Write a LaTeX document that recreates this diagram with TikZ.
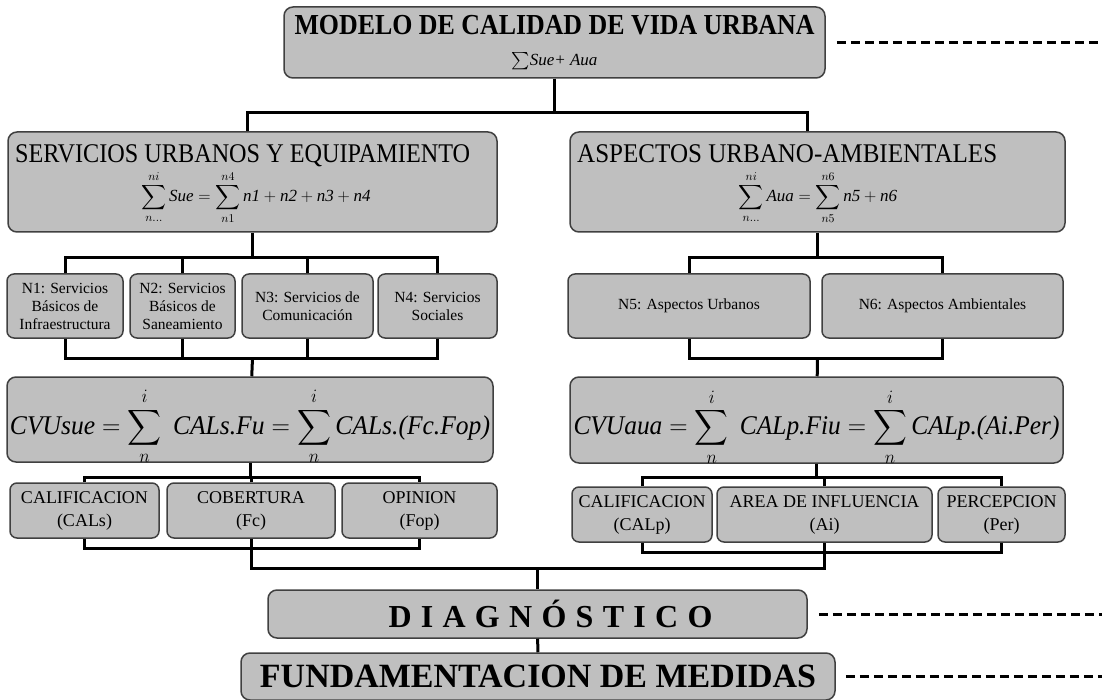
\RequirePackage{fix-cm}
\documentclass[tikz,border=0pt]{standalone}
\usepackage{amsmath}
\usepackage{graphicx}
\usepackage{fontspec}
\setmainfont{Liberation Serif}
\usepackage{tikz}
\tikzstyle{caja} = [draw=black!75, fill=black!25, line width=1.5pt, rounded corners=9pt, inner sep=1pt]
\tikzstyle{nivel} = [caja, minimum height=64, align=center, rounded corners=7pt, font=\fontsize{15.5}{18}\selectfont]
\tikzstyle{factor} = [caja, minimum height=55, align=center, rounded corners=7pt, font=\fontsize{18}{23}\selectfont]
\tikzstyle{linea} = [line width=3pt]
\tikzstyle{punteada} = [line width=3pt, dash pattern=on 9pt off 5pt]
\newcommand{\fitto}[2]{\resizebox{#1}{\height}{#2}}

\begin{document}
\begin{tikzpicture}[x=1pt, y=-1pt]
            \useasboundingbox (0,0) rectangle (1102,700);
            % 模型
            \node[caja, minimum width=541, minimum height=71, align=center, font=\fontsize{17}{31}\selectfont] (modelo) at (554.5,42.5)
                {\fitto{520pt}{\fontsize{29}{29}\selectfont\bfseries MODELO DE CALIDAD DE VIDA URBANA}\\
                 $\sum$\textit{Sue+ Aua}};
            
            % 第二层
            \node[caja, minimum width=489, minimum height=100] (servicios) at (252.5,182) {};
            \node[anchor=base west, inner sep=0] (servicios-tit) at (15,163)
                {\fitto{455pt}{\fontsize{27}{27}\selectfont SERVICIOS URBANOS Y EQUIPAMIENTO}};
            \node[anchor=base, inner sep=0] (servicios-for) at (256,202)
                {\fontsize{17}{17}\selectfont$\displaystyle\sum_{n\ldots}^{ni}\textit{Sue} = \sum_{n1}^{n4}\textit{n1} + \textit{n2} + \textit{n3} + \textit{n4}$};
            \node[caja, minimum width=495, minimum height=100] (aspectos) at (817.5,182) {};
            \node[anchor=base west, inner sep=0] (aspectos-tit) at (577,163)
                {\fitto{420pt}{\fontsize{27}{27}\selectfont ASPECTOS URBANO-AMBIENTALES}};
            \node[anchor=base, inner sep=0] (aspectos-for) at (818,202)
                {\fontsize{17}{17}\selectfont$\displaystyle\sum_{n\ldots}^{ni}\textit{Aua} = \sum_{n5}^{n6}\textit{n5} + \textit{n6}$};
            
            % 第三层
            \node[nivel, minimum width=116] (n1) at (65,306) {N1: Servicios\\Básicos de\\Infraestructura};
            \node[nivel, minimum width=105] (n2) at (182.5,306) {N2: Servicios\\Básicos de\\Saneamiento};
            \node[nivel, minimum width=131] (n3) at (307.5,306) {N3: Servicios de\\Comunicación};
            \node[nivel, minimum width=119] (n4) at (437.5,306) {N4: Servicios\\Sociales};
            \node[nivel, minimum width=242] (n5) at (689,306) {N5: Aspectos Urbanos};
            \node[nivel, minimum width=241] (n6) at (942.5,306) {N6: Aspectos Ambientales};
            
            % 公式
            \node[caja, minimum width=486, minimum height=85] (cvusue) at (250,419.5) {};
            \node[yshift=-7pt, inner sep=0] (cvusue-for) at (cvusue)
                {\fitto{480pt}{\fontsize{27}{27}\selectfont$\displaystyle\textit{CVUsue} = \sum_{n}^{i}\;\textit{CALs.Fu} = \sum_{n}^{i}\textit{CALs.(Fc.Fop)}$}};
            \node[caja, minimum width=493, minimum height=86] (cvuaua) at (816.5,420) {};
            \node[yshift=-7pt, inner sep=0] (cvuaua-for) at (cvuaua)
                {\fitto{486pt}{\fontsize{27}{27}\selectfont$\displaystyle\textit{CVUaua} = \sum_{n}^{i}\;\textit{CALp.Fiu} = \sum_{n}^{i}\textit{CALp.(Ai.Per)}$}};
            
            % 因子
            \node[factor, minimum width=149] (c1) at (84.5,510.5) {CALIFICACION\\(CALs)};
            \node[factor, minimum width=168] (c2) at (251,510.5) {COBERTURA\\(Fc)};
            \node[factor, minimum width=155] (c3) at (419.5,510.5) {OPINION\\(Fop)};
            \node[factor, minimum width=140] (r1) at (642,514.5) {CALIFICACION\\(CALp)};
            \node[factor, minimum width=215] (r2) at (824.5,514.5) {AREA DE INFLUENCIA\\(Ai)};
            \node[factor, minimum width=127] (r3) at (1001.5,514.5) {PERCEPCION\\(Per)};
            
            % 诊断
            \node[caja, minimum width=539, minimum height=48] (diag) at (537.5,614)
                {\hspace{26pt}\fontsize{32}{32}\selectfont\bfseries\addfontfeature{LetterSpace=29}DIAGNÓSTICO};
            \node[caja, minimum width=594, minimum height=47] (fund) at (538,676.5)
                {\fitto{556pt}{\fontsize{34}{34}\selectfont\bfseries FUNDAMENTACION DE MEDIDAS}};
            
            % 连线
            \coordinate (j0) at (554.5,113);
            \draw[linea] (modelo) -- (j0);
            \draw[linea] (j0) -| ([xshift=-5]servicios.north);
            \draw[linea] (j0) -| ([xshift=-10]aspectos.north);
            
            \coordinate (j1) at (252.5,258);
            \coordinate (j2) at (252.5,358);
            \draw[linea] (servicios) -- (j1);
            \draw[linea] (n1.north) |- (j1) -| (n4.north);
            \draw[linea] (n2) -- (n2 |- j1);
            \draw[linea] (n3) -- (n3 |- j1);
            \draw[linea] (n1.south) |- (j2) -| (n4.south);
            \draw[linea] (n2) -- (n2 |- j2);
            \draw[linea] (n3) -- (n3 |- j2);
            \draw[linea] (j2) -- (cvusue);
            
            \coordinate (k1) at (817.5,258);
            \coordinate (k2) at (817.5,358);
            \draw[linea] (aspectos) -- (k1);
            \draw[linea] (n5.north) |- (k1) -| (n6.north);
            \draw[linea] (n5.south) |- (k2) -| (n6.south);
            \draw[linea] (k2) -- (cvuaua);
            
            \coordinate (j3) at (250,477);
            \coordinate (j4) at (251,548);
            \draw[linea] (cvusue) -- (j3);
            \draw[linea] (c1.north) |- (j3) -| (c3.north);
            \draw[linea] (c2) -- (c2 |- j3);
            \draw[linea] (c1.south) |- (j4) -| (c3.south);
            
            \coordinate (k3) at (816.5,477);
            \coordinate (k4) at (824.5,552);
            \draw[linea] (cvuaua) -- (k3);
            \draw[linea] (r1.north) |- (k3) -| (r3.north);
            \draw[linea] (r2) -- (r2 |- k3);
            \draw[linea] (r1.south) |- (k4) -| (r3.south);
            
            \coordinate (j5) at (537.5,568);
            \draw[linea] (c2) |- (j5) -| (r2);
            \draw[linea] (j5) -- (diag);
            \draw[linea] (diag) -- (fund);
            
            % 虚线
            \coordinate (borde) at (1102,0);
            \draw[punteada] ([xshift=11]modelo.east) -- (modelo.east -| borde);
            \draw[punteada] ([xshift=11]diag.east) -- (diag.east -| borde);
            \draw[punteada] ([xshift=10]fund.east) -- (fund.east -| borde);
        \end{tikzpicture}
\end{document}
